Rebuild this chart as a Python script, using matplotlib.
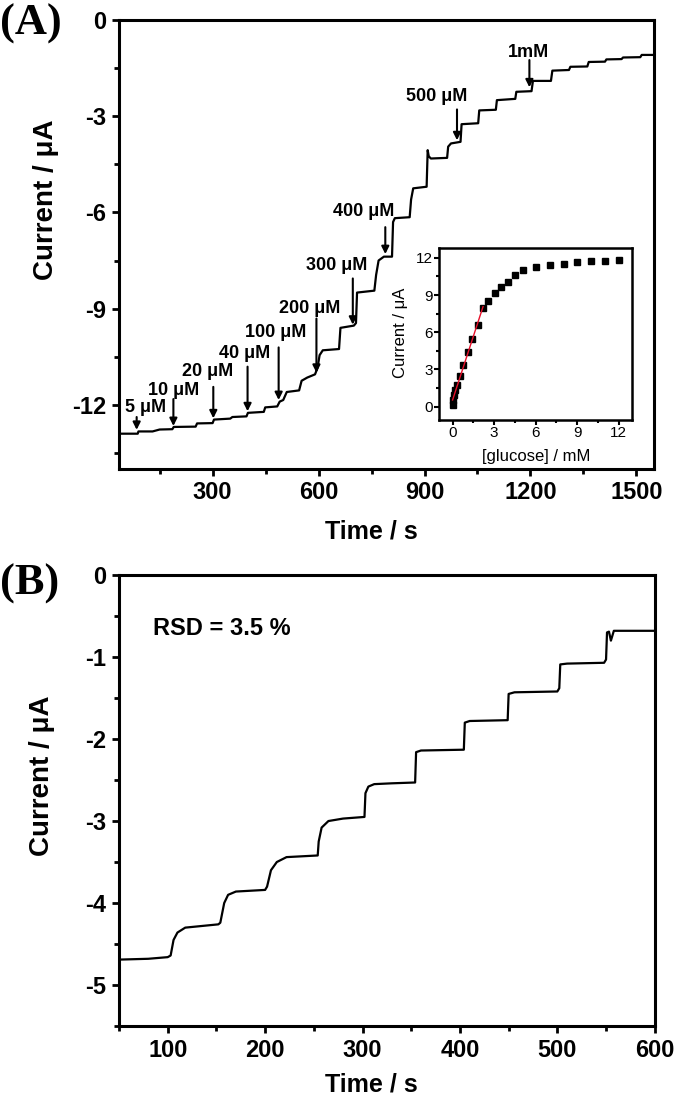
import matplotlib.pyplot as plt
import numpy as np
from matplotlib.ticker import MultipleLocator

plt.rcParams['font.family'] = ['Liberation Sans', 'DejaVu Sans']
plt.rcParams['axes.unicode_minus'] = False

# (A) amperometric trace, breakpoints
timeA = [37, 88, 90, 130, 150, 186, 190, 252, 256, 300, 304, 350, 356, 396, 400, 445, 449,
         483, 490, 500, 510, 545, 552, 568, 590, 597, 603, 612, 658, 662, 700, 706, 709,
         758, 763, 770, 785, 808, 811, 816, 858, 862, 868, 906, 909, 912, 918, 964, 967,
         975, 1002, 1005, 1052, 1055, 1102, 1105, 1157, 1160, 1203, 1207, 1258, 1262, 1309,
         1313, 1361, 1365, 1411, 1415, 1458, 1462, 1511, 1515, 1550]
currA = [-12.90, -12.90, -12.83, -12.83, -12.77, -12.76, -12.69, -12.68, -12.58, -12.57, -12.46,
         -12.43, -12.38, -12.36, -12.25, -12.22, -12.08, -12.05, -11.90, -11.85, -11.60, -11.55,
         -11.25, -11.15, -11.05, -10.85, -10.45, -10.30, -10.26, -9.60, -9.53, -9.45, -8.50,
         -8.44, -7.95, -7.50, -7.38, -7.38, -6.30, -6.18, -6.15, -5.60, -5.25, -5.20, -4.06,
         -4.25, -4.32, -4.30, -3.95, -3.85, -3.80, -3.25, -3.22, -2.82, -2.80, -2.50, -2.46,
         -2.24, -2.22, -1.90, -1.90, -1.58, -1.56, -1.46, -1.45, -1.31, -1.30, -1.23, -1.22,
         -1.17, -1.16, -1.09, -1.09]

# additions: label, arrow time, arrow top, arrow tip, label time, label current
addLabels = ['5 μM', '10 μM', '20 μM', '40 μM', '100 μM', '200 μM', '300 μM', '400 μM', '500 μM', '1mM']
addTime = [85, 189, 302, 399, 487, 594, 697, 789, 992, 1197]
addTop = [-12.38, -11.82, -11.44, -10.81, -10.21, -9.31, -8.06, -6.46, -2.79, -1.25]
addTip = [-12.78, -12.66, -12.42, -12.20, -11.85, -11.0, -9.50, -7.30, -3.75, -2.10]
labTime = [109, 190, 287, 390, 480, 574, 651, 729, 934, 1194]
labCurr = [-12.09, -11.54, -10.97, -10.39, -9.76, -9.0, -7.66, -5.97, -2.40, -1.00]

# inset calibration
gluc = [0.01, 0.05, 0.1, 0.17, 0.3, 0.56, 0.75, 1.11, 1.40, 1.81, 2.20, 2.56, 3.04, 3.52,
        4.00, 4.53, 5.06, 6.05, 7.06, 8.03, 9.02, 10.0, 10.99, 12.0]
icurr = [0.15, 0.5, 0.9, 1.3, 1.75, 2.48, 3.34, 4.37, 5.44, 6.58, 7.95, 8.49, 9.17, 9.65,
         10.08, 10.65, 11.0, 11.24, 11.46, 11.54, 11.64, 11.72, 11.72, 11.86]

# (B) repeated additions
timeB = [50, 80, 100, 103, 106, 110, 118, 135, 152, 154, 158, 162, 170, 200, 202, 206, 212,
         222, 254, 255, 258, 265, 280, 302, 303, 306, 312, 330, 354, 355, 360, 404, 405, 410,
         449, 450, 456, 500, 502, 503, 510, 548, 550, 551, 553, 555, 558, 600]
currB = [-4.69, -4.68, -4.66, -4.64, -4.45, -4.36, -4.30, -4.28, -4.26, -4.24, -4.00, -3.90,
         -3.86, -3.84, -3.80, -3.60, -3.50, -3.44, -3.42, -3.25, -3.08, -3.00, -2.97, -2.95,
         -2.66, -2.58, -2.55, -2.54, -2.53, -2.16, -2.14, -2.13, -1.80, -1.78, -1.77, -1.45,
         -1.43, -1.42, -1.38, -1.09, -1.08, -1.07, -1.03, -0.70, -0.69, -0.80, -0.68, -0.68]

fig = plt.figure(figsize=(6.75, 10.97), dpi=100)

def style(ax, fs=17):
    for s in ax.spines.values():
        s.set_linewidth(2.2)
    ax.tick_params(which='major', direction='out', length=5, width=2, labelsize=fs, pad=4)
    ax.tick_params(which='minor', direction='out', length=3.5, width=2)
    ax.tick_params(top=False, right=False, which='both')
    for lab in ax.get_xticklabels() + ax.get_yticklabels():
        lab.set_fontweight('bold')

# ---- panel A
axA = fig.add_axes([0.1763, 0.5725, 0.7927, 0.4093])
axA.plot(timeA, currA, color='k', lw=1.6)
for i in range(len(addLabels)):
    axA.annotate('', xy=(addTime[i], addTip[i]), xytext=(addTime[i], addTop[i]),
                 arrowprops=dict(arrowstyle='-|>', color='k', lw=1.5, mutation_scale=11,
                                 shrinkA=0, shrinkB=0))
    axA.text(labTime[i], labCurr[i], addLabels[i], ha='center', va='center',
             fontsize=13, fontweight='bold')
axA.set_xlim(35, 1550)
axA.set_ylim(-14, 0)
axA.xaxis.set_major_locator(MultipleLocator(300))
axA.xaxis.set_minor_locator(MultipleLocator(150))
axA.yaxis.set_major_locator(MultipleLocator(3))
axA.yaxis.set_minor_locator(MultipleLocator(1.5))
style(axA)
axA.set_xlabel('Time / s', fontsize=18, fontweight='bold')
axA.set_ylabel('Current / μA', fontsize=20, fontweight='bold')
axA.xaxis.set_label_coords(0.472, -0.112)
axA.yaxis.set_label_coords(-0.113, 0.6)

# ---- inset
axI = fig.add_axes([0.650, 0.617, 0.287, 0.157])
axI.plot(gluc, icurr, 's', color='k', ms=4)
g = np.array(gluc)
c = np.array(icurr)
fit = np.polyfit(g[g <= 2.2], c[g <= 2.2], 1)
xf = np.array([0, 2.2])
axI.plot(xf, np.polyval(fit, xf), color='#e8102a', lw=1)
axI.set_xlim(-1, 13)
axI.set_ylim(-1.1, 12.8)
axI.xaxis.set_major_locator(MultipleLocator(3))
axI.xaxis.set_minor_locator(MultipleLocator(1.5))
axI.yaxis.set_major_locator(MultipleLocator(3))
axI.yaxis.set_minor_locator(MultipleLocator(1.5))
for s in axI.spines.values():
    s.set_linewidth(1.8)
axI.tick_params(which='major', direction='out', length=3.5, width=1.5, labelsize=11, pad=1)
axI.tick_params(which='minor', direction='out', length=2, width=1.5)
axI.set_xlabel('[glucose] / mM', fontsize=12)
axI.set_ylabel('Current / μA', fontsize=12)
axI.xaxis.set_label_coords(0.504, -0.165)
axI.yaxis.set_label_coords(-0.16, 0.506)

# ---- panel B
axB = fig.add_axes([0.1763, 0.0647, 0.7937, 0.4111])
axB.plot(timeB, currB, color='k', lw=1.6)
axB.set_xlim(50, 600)
axB.set_ylim(-5.5, 0)
axB.xaxis.set_major_locator(MultipleLocator(100))
axB.xaxis.set_minor_locator(MultipleLocator(50))
axB.yaxis.set_major_locator(MultipleLocator(1))
axB.yaxis.set_minor_locator(MultipleLocator(0.5))
style(axB)
axB.set_xlabel('Time / s', fontsize=18, fontweight='bold')
axB.set_ylabel('Current / μA', fontsize=20, fontweight='bold')
axB.xaxis.set_label_coords(0.471, -0.103)
axB.yaxis.set_label_coords(-0.12, 0.554)
axB.text(0.063, 0.882, 'RSD = 3.5 %', transform=axB.transAxes, ha='left', va='center',
         fontsize=17, fontweight='bold')

fig.text(0.0, 1 - 24 / 1097, '(A)', family='Liberation Serif', fontsize=32,
         fontweight='bold', ha='left', va='center')
fig.text(0.0, 1 - 584 / 1097, '(B)', family='Liberation Serif', fontsize=32,
         fontweight='bold', ha='left', va='center')

fig.savefig('out.png', dpi=100)
